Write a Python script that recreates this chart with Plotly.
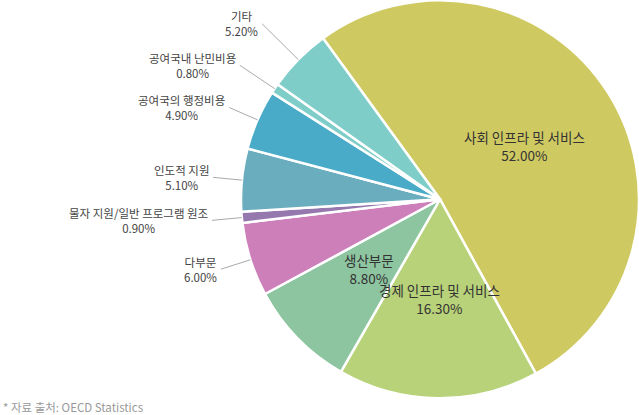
import math
import plotly.graph_objects as go

# ODA by sector (share, %)
labels = ["사회 인프라 및 서비스", "경제 인프라 및 서비스", "생산부문", "다부문",
          "물자 지원/일반 프로그램 원조", "인도적 지원", "공여국의 행정비용",
          "공여국내 난민비용", "기타"]
values = [52.0, 16.3, 8.8, 6.0, 0.9, 5.1, 4.9, 0.8, 5.2]
colors = ["#cfc962", "#b8d279", "#8dc5a0", "#cd7fba", "#9579ae",
          "#6aadbe", "#4aabc8", "#7ecdc8", "#7ecdc8"]
inside = [True, True, True, False, False, False, False, False, False]

W, H = 639, 415
cx, cy, R = 440, 199.5, 199
rotation = -36
# leader line length past the rim, per outside label
leader = {3: 31, 4: 30, 5: 29, 6: 31, 7: 42, 8: 51}

fig = go.Figure(go.Pie(
    labels=labels, values=values, sort=False, direction="clockwise",
    rotation=rotation, textinfo="none", hoverinfo="label+percent",
    marker=dict(colors=colors, line=dict(color="white", width=2.5)),
    domain=dict(x=[(cx - R) / W, 1], y=[1 - (cy + R) / H, 1]),
    showlegend=False,
))


def to_paper(px, py):
    return px / W, 1 - py / H


total = sum(values)
start = rotation
annotations = []
shapes = []
for i, (lab, v) in enumerate(zip(labels, values)):
    span = v / total * 360
    mid = math.radians(start + span / 2)
    start += span
    txt = f"{lab}<br>{v:.2f}%"
    if inside[i]:
        r = R * 0.5
        x, y = to_paper(cx + r * math.sin(mid), cy - r * math.cos(mid))
        annotations.append(dict(x=x, y=y, xref="paper", yref="paper", text=txt,
                                showarrow=False, xanchor="center", yanchor="middle",
                                font=dict(size=13.5, color="#333")))
    else:
        x0, y0 = cx + R * math.sin(mid), cy - R * math.cos(mid)
        r2 = R + leader[i]
        x1, y1 = cx + r2 * math.sin(mid), cy - r2 * math.cos(mid)
        p0, p1 = to_paper(x0, y0), to_paper(x1, y1)
        shapes.append(dict(type="line", xref="paper", yref="paper",
                           x0=p0[0], y0=p0[1], x1=p1[0], y1=p1[1],
                           line=dict(color="#aaa", width=1)))
        tx, ty = to_paper(x1 - 2, y1)
        annotations.append(dict(x=tx, y=ty, xref="paper", yref="paper", text=txt,
                                showarrow=False, xanchor="right", yanchor="middle",
                                align="center", font=dict(size=11.5, color="#444")))

annotations.append(dict(x=0.002, y=-0.006, xref="paper", yref="paper", xanchor="left",
                        yanchor="bottom", showarrow=False,
                        text="* 자료 출처: OECD Statistics",
                        font=dict(size=11.5, color="#999")))

fig.update_layout(
    width=W, height=H, margin=dict(l=0, r=0, t=0, b=0),
    paper_bgcolor="white", plot_bgcolor="white",
    font=dict(family="Noto Sans CJK KR, Noto Sans, sans-serif"),
    annotations=annotations, shapes=shapes,
)

fig.write_html("out.html", config={"displayModeBar": False},
               post_script="document.body.style.margin='0px';")
